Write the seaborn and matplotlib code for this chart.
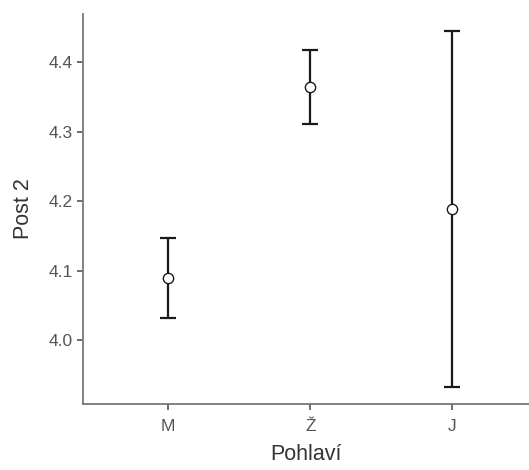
import matplotlib
matplotlib.use("Agg")
import matplotlib.pyplot as plt
import seaborn as sns
import pandas as pd

# group means with confidence limits
groups = ["M", "Ž", "J"]
means = [4.089, 4.364, 4.188]
lower = [4.032, 4.311, 3.933]
upper = [4.147, 4.417, 4.445]

df = pd.DataFrame({"Pohlaví": groups, "mean": means, "lo": lower, "hi": upper})

sns.set_style("ticks")
plt.rcParams["font.family"] = ["Liberation Sans", "DejaVu Sans"]

fig = plt.figure(figsize=(5.29, 4.70), dpi=100)
ax = fig.add_axes([0.157, 0.1404, 0.843, 0.8296])

err = [df["mean"] - df["lo"], df["hi"] - df["mean"]]
ax.errorbar(df["Pohlaví"], df["mean"], yerr=err, fmt="none", ecolor="#1a1a1a",
            elinewidth=1.6, capsize=5.5, capthick=1.6, zorder=2)
sns.scatterplot(data=df, x="Pohlaví", y="mean", ax=ax, color="white",
                edgecolor="#1a1a1a", linewidth=1.0, s=55, zorder=3)

ax.set_xlim(-0.6, 2.54)
ax.set_ylim(3.908, 4.469)
ax.set_yticks([4.0, 4.1, 4.2, 4.3, 4.4])
ax.set_yticklabels(["4.0", "4.1", "4.2", "4.3", "4.4"])

ax.set_xlabel("Pohlaví", fontsize=15.5, color="#333333", labelpad=7)
ax.set_ylabel("Post 2", fontsize=15.5, color="#333333", labelpad=10)
ax.tick_params(axis="both", labelsize=12.5, colors="#555555", length=4, width=1.2,
               labelcolor="#555555")
ax.tick_params(axis="x", pad=7)

sns.despine(ax=ax)
for side in ["left", "bottom"]:
    ax.spines[side].set_color("#777777")
    ax.spines[side].set_linewidth(1.3)

fig.savefig("out.png", dpi=100)
